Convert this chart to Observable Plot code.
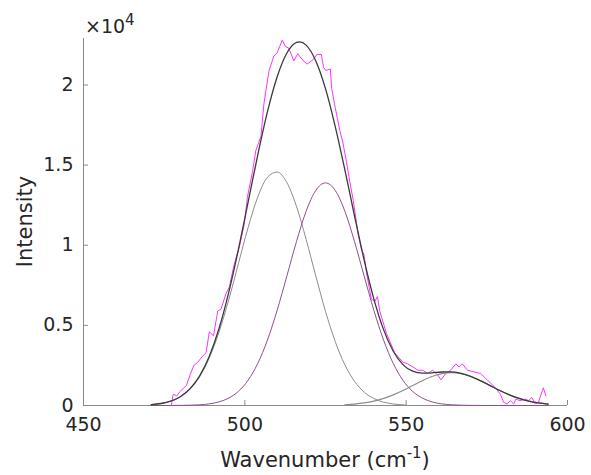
<!DOCTYPE html>
<html>
<head>
<meta charset="utf-8">
<script src="https://cdn.jsdelivr.net/npm/d3@7"></script>
<script src="https://cdn.jsdelivr.net/npm/@observablehq/plot@0.6"></script>
<style>
  html, body { margin: 0; padding: 0; background: #fff; }
  #chart { width: 591px; height: 475px; }
</style>
</head>
<body>
<div id="chart"></div>
<script>
// ---- data ----
const xTicks = [450, 500, 550, 600];
const yTicks = [0, 5000, 10000, 15000, 20000];
const yTickLabels = ["0", "0.5", "1", "1.5", "2"];

// measured spectrum
const rawX = [477.2, 477.8, 478.9, 479.8, 481.9, 483.0, 484.2, 485.4, 487.0, 488.0, 489.0, 490.3, 491.6, 492.6, 494.2, 495.2, 496.7, 498.3, 499.8, 500.8, 502.4, 503.4, 505.0, 505.9, 506.5, 507.5, 509.0, 510.0, 511.6, 512.6, 513.6, 515.2, 516.4, 517.7, 519.3, 521.3, 522.3, 523.7, 524.4, 525.1, 526.5, 526.9, 528.0, 529.5, 530.3, 531.5, 532.5, 533.6, 535.1, 536.2, 536.9, 537.7, 539.2, 540.3, 541.1, 541.8, 543.9, 546.4, 549.0, 550.5, 552.1, 553.6, 555.1, 556.7, 558.2, 559.8, 560.8, 562.3, 563.8, 565.4, 566.4, 567.4, 569.0, 571.0, 573.1, 575.1, 577.7, 579.2, 580.2, 581.3, 582.3, 583.3, 584.0, 585.3, 586.9, 587.9, 588.9, 590.0, 591.0, 592.5, 593.3];
const rawY = [0, 700, 600, 850, 1250, 1900, 2500, 2700, 3100, 3300, 4600, 4350, 5900, 6000, 7000, 7400, 8800, 9900, 11300, 13000, 14600, 15900, 16800, 18800, 19600, 20900, 21800, 22000, 22800, 22400, 22300, 21500, 21950, 21600, 21300, 21600, 21900, 21900, 21100, 20900, 21000, 19800, 18600, 17100, 16500, 15200, 14000, 12800, 10700, 9700, 9450, 8300, 6650, 6500, 6800, 5900, 4500, 3300, 2700, 2600, 2400, 2200, 2200, 2000, 2200, 1900, 1600, 2000, 2200, 2600, 2400, 2600, 2200, 2100, 2000, 1600, 1100, 700, 200, 100, 300, 100, 400, 300, 400, 300, 500, 100, 200, 1100, 600];

// fitted components, read at a regular wavenumber grid
const fitX = [471, 474, 477, 480, 483, 486, 489, 492, 495, 498, 501, 504, 507, 510, 513, 516, 519, 522, 525, 528, 531, 534, 537, 540, 543, 546, 549, 552, 555, 558, 561, 564, 567, 570, 573, 576, 579, 582, 585, 588, 591, 594];
const peak1X = [471, 474, 477, 480, 483, 486, 489, 492, 495, 498, 501, 504, 507, 510, 513, 516, 519, 522, 525, 528, 531, 534, 537, 540, 543, 546, 549, 550];
const peak1Y = [54, 124, 269, 543, 1025, 1807, 2977, 4581, 6585, 8843, 11095, 13004, 14239, 14566, 13921, 12428, 10365, 8076, 5879, 3998, 2538, 1508, 836, 433, 209, 95, 40, 30];
const peak2Y = [0, 1, 2, 7, 18, 44, 103, 226, 462, 882, 1574, 2623, 4081, 5932, 8059, 10226, 12123, 13425, 13890, 13425, 12123, 10226, 8059, 5932, 4081, 2623, 1574, 882, 462, 226, 103, 44, 18, 7, 2, 1, 0, 0, 0, 0, 0, 0];
const peak3X = [531, 534, 537, 540, 543, 546, 549, 552, 555, 558, 561, 564, 567, 570, 573, 576, 579, 582, 585, 588, 591, 594];
const peak3Y = [47, 90, 163, 277, 443, 666, 938, 1243, 1547, 1809, 1987, 2050, 1987, 1809, 1547, 1243, 938, 666, 443, 277, 163, 90];
const sumX = [471, 474, 477, 480, 483, 486, 489, 492, 495, 498, 501, 504, 507, 510, 513, 516, 517, 519, 522, 525, 528, 531, 534, 537, 540, 543, 546, 549, 552, 555, 558, 561, 564, 567, 570, 573, 576, 579, 582, 585, 588, 591, 594];
const sumY = [54, 125, 271, 550, 1043, 1851, 3080, 4807, 7047, 9725, 12669, 15627, 18320, 20498, 21980, 22654, 22692, 22488, 21501, 19769, 17423, 14708, 11824, 9058, 6642, 4733, 3384, 2552, 2141, 2015, 2037, 2090, 2094, 2005, 1816, 1549, 1244, 938, 666, 443, 277, 163, 90];

const zip = (xs, ys) => xs.map((x, i) => ({x, y: ys[i]}));
const raw = zip(rawX, rawY);
const p1 = zip(peak1X, peak1Y);
const p2 = zip(fitX, peak2Y);
const p3 = zip(peak3X, peak3Y);
const total = zip(sumX, sumY);

const W = 591, H = 475, ML = 83, MR = 24, MT = 38, MB = 70;
const font = "DejaVu Sans";
const textCol = "#262626";
const axisCol = "#8a8a8a";

const chart = Plot.plot({
  width: W, height: H,
  marginLeft: ML, marginRight: MR, marginTop: MT, marginBottom: MB,
  style: {fontFamily: font, fontSize: "19px", color: textCol, background: "#fff", overflow: "visible"},
  x: {domain: [450, 600]},
  y: {domain: [0, 22900]},
  marks: [
    Plot.axisX(xTicks, {tickSize: 0, tickPadding: 12, label: null, fontSize: 19, fill: textCol}),
    Plot.axisY(yTicks, {tickSize: 0, tickPadding: 10, label: null, fontSize: 19, fill: textCol,
      tickFormat: d => yTickLabels[yTicks.indexOf(d)]}),
    Plot.ruleY([0], {stroke: axisCol, strokeWidth: 1}),
    Plot.ruleX([450], {stroke: axisCol, strokeWidth: 1}),
    Plot.tickX(xTicks, {x: d => d, insetTop: H - MT - MB - 5, stroke: axisCol}),
    Plot.tickY(yTicks, {y: d => d, insetRight: W - ML - MR - 5, stroke: axisCol}),
    Plot.line(raw, {x: "x", y: "y", stroke: "#ff33ff", strokeWidth: 1}),
    Plot.line(p1, {x: "x", y: "y", curve: "monotone-x", stroke: "#8c8c8c", strokeWidth: 1}),
    Plot.line(p2, {x: "x", y: "y", curve: "monotone-x", stroke: "#8d4f8d", strokeWidth: 1}),
    Plot.line(p3, {x: "x", y: "y", curve: "monotone-x", stroke: "#8c8c8c", strokeWidth: 1.2}),
    Plot.line(total, {x: "x", y: "y", curve: "monotone-x", stroke: "#3a3a3a", strokeWidth: 1.3})
  ]
});

document.getElementById("chart").appendChild(chart);

// extra text: exponent, axis labels with superscript
const svg = d3.select(chart);
const xs = chart.scale("x"), ys = chart.scale("y");
const x0 = xs.apply(450);
const yTop = MT;

const expo = svg.append("text")
  .attr("x", x0 + 2).attr("y", yTop - 5)
  .attr("text-anchor", "start")
  .attr("font-family", font).attr("font-size", 19).attr("fill", textCol);
expo.append("tspan").text("×10");
expo.append("tspan").attr("font-size", 15).attr("dy", -8).text("4");

const xl = svg.append("text")
  .attr("x", (xs.apply(450) + xs.apply(600)) / 2).attr("y", H - 8)
  .attr("text-anchor", "middle")
  .attr("font-family", font).attr("font-size", 21).attr("fill", textCol);
xl.append("tspan").text("Wavenumber (cm");
xl.append("tspan").attr("font-size", 15).attr("dy", -9).text("-1");
xl.append("tspan").attr("dy", 9).text(")");

svg.append("text")
  .attr("transform", `translate(${32},${(ys.apply(0) + ys.apply(22900)) / 2}) rotate(-90)`)
  .attr("text-anchor", "middle")
  .attr("font-family", font).attr("font-size", 21).attr("fill", textCol)
  .text("Intensity");
</script>
</body>
</html>
